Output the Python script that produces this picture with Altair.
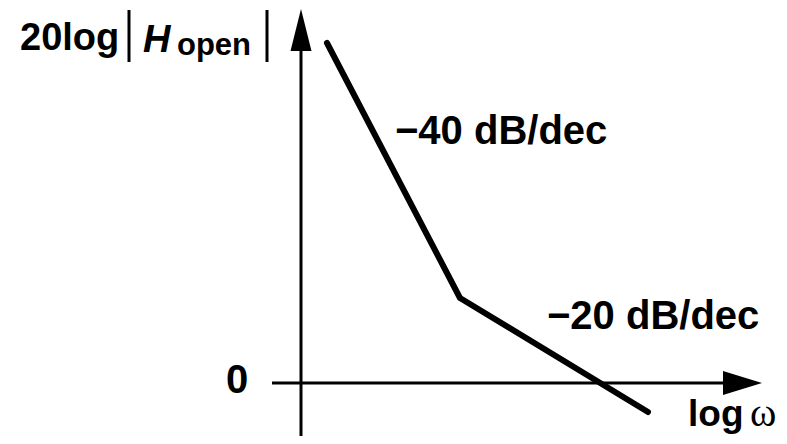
import altair as alt
import pandas as pd

# ---- data (schematic open-loop Bode magnitude) ----
log_w = [0.26, 1.59, 3.47]          # log(omega), decades from the vertical axis
gain_db = [68.0, 17.0, -5.8]        # 20log|H_open| in dB

slope_labels = ["−40 dB/dec", "−20 dB/dec"]
slope_label_x = [0.94, 2.46]
slope_label_y = [47.8, 10.8]

zero_label = ["0"]
x_axis_label = ["log"]
x_axis_symbol = ["ω"]

# ---- frame ----
X_DOM = [-2.93, 4.78]
Y_DOM = [-10.6, 75.0]
xs = alt.Scale(domain=X_DOM, nice=False, zero=False)
ys = alt.Scale(domain=Y_DOM, nice=False, zero=False)


def X(field="x"):
    return alt.X(f"{field}:Q", scale=xs, axis=None)


def Y(field="y"):
    return alt.Y(f"{field}:Q", scale=ys, axis=None)


base_text = dict(align="left", baseline="alphabetic", font="Liberation Sans",
                 fontWeight="bold", color="black")

# Bode curve
curve = alt.Chart(pd.DataFrame({"x": log_w, "y": gain_db})).mark_line(
    color="black", strokeWidth=6, strokeCap="round", strokeJoin="round"
).encode(x=X(), y=Y())

# axes
h_axis = alt.Chart(pd.DataFrame({"x": [-0.29], "x2": [4.4], "y": [0.0]})).mark_rule(
    color="black", strokeWidth=3
).encode(x=X(), x2="x2:Q", y=Y())

v_axis = alt.Chart(pd.DataFrame({"x": [0.0], "y": [-10.6], "y2": [70.0]})).mark_rule(
    color="black", strokeWidth=3
).encode(x=X(), y=Y(), y2="y2:Q")

h_arrow = alt.Chart(pd.DataFrame({"x": [4.61], "y": [0.0]})).mark_point(
    shape="M0,0L-1,-0.31L-1,0.31Z", size=6084, filled=True, color="black",
    opacity=1, strokeWidth=0
).encode(x=X(), y=Y())

v_arrow = alt.Chart(pd.DataFrame({"x": [0.0], "y": [74.8]})).mark_point(
    shape="M0,0L-0.25,1L0.25,1Z", size=7056, filled=True, color="black",
    opacity=1, strokeWidth=0
).encode(x=X(), y=Y())

# y-axis title pieces: 20log|H_open|
t_20log = alt.Chart(pd.DataFrame({"x": [-2.81], "y": [66.6], "t": ["20log"]})).mark_text(
    fontSize=38, **base_text).encode(x=X(), y=Y(), text="t:N")
t_H = alt.Chart(pd.DataFrame({"x": [-1.58], "y": [66.2], "t": ["H"]})).mark_text(
    fontSize=38, fontStyle="italic", **base_text).encode(x=X(), y=Y(), text="t:N")
t_open = alt.Chart(pd.DataFrame({"x": [-1.24], "y": [65.6], "t": ["open"]})).mark_text(
    fontSize=31, **base_text).encode(x=X(), y=Y(), text="t:N")
bars = alt.Chart(pd.DataFrame({"x": [-1.72, -0.34], "y": [64.2, 64.2], "y2": [74.6, 74.6]})).mark_rule(
    color="black", strokeWidth=3
).encode(x=X(), y=Y(), y2="y2:Q")

# slope labels
t_slopes = alt.Chart(pd.DataFrame({"x": slope_label_x, "y": slope_label_y, "t": slope_labels})).mark_text(
    fontSize=40, **base_text).encode(x=X(), y=Y(), text="t:N")

# zero label
t_zero = alt.Chart(pd.DataFrame({"x": [-0.75], "y": [-2.0], "t": zero_label})).mark_text(
    fontSize=40, **base_text).encode(x=X(), y=Y(), text="t:N")

# x-axis label: log ω
t_log = alt.Chart(pd.DataFrame({"x": [3.87], "y": [-8.6], "t": x_axis_label})).mark_text(
    fontSize=37, **base_text).encode(x=X(), y=Y(), text="t:N")
t_omega = alt.Chart(pd.DataFrame({"x": [4.49], "y": [-8.6], "t": x_axis_symbol})).mark_text(
    align="left", baseline="alphabetic", font="Liberation Serif", fontSize=40,
    color="black").encode(x=X(), y=Y(), text="t:N")

chart = alt.layer(
    h_axis, v_axis, h_arrow, v_arrow, curve,
    t_20log, t_H, t_open, bars, t_slopes, t_zero, t_log, t_omega
).properties(
    width=771, height=428, padding=0,
    autosize=alt.AutoSizeParams(type="none"),
    background="white",
).configure_view(stroke=None)

chart.save("out.html", embed_options={"renderer": "svg", "actions": False})
